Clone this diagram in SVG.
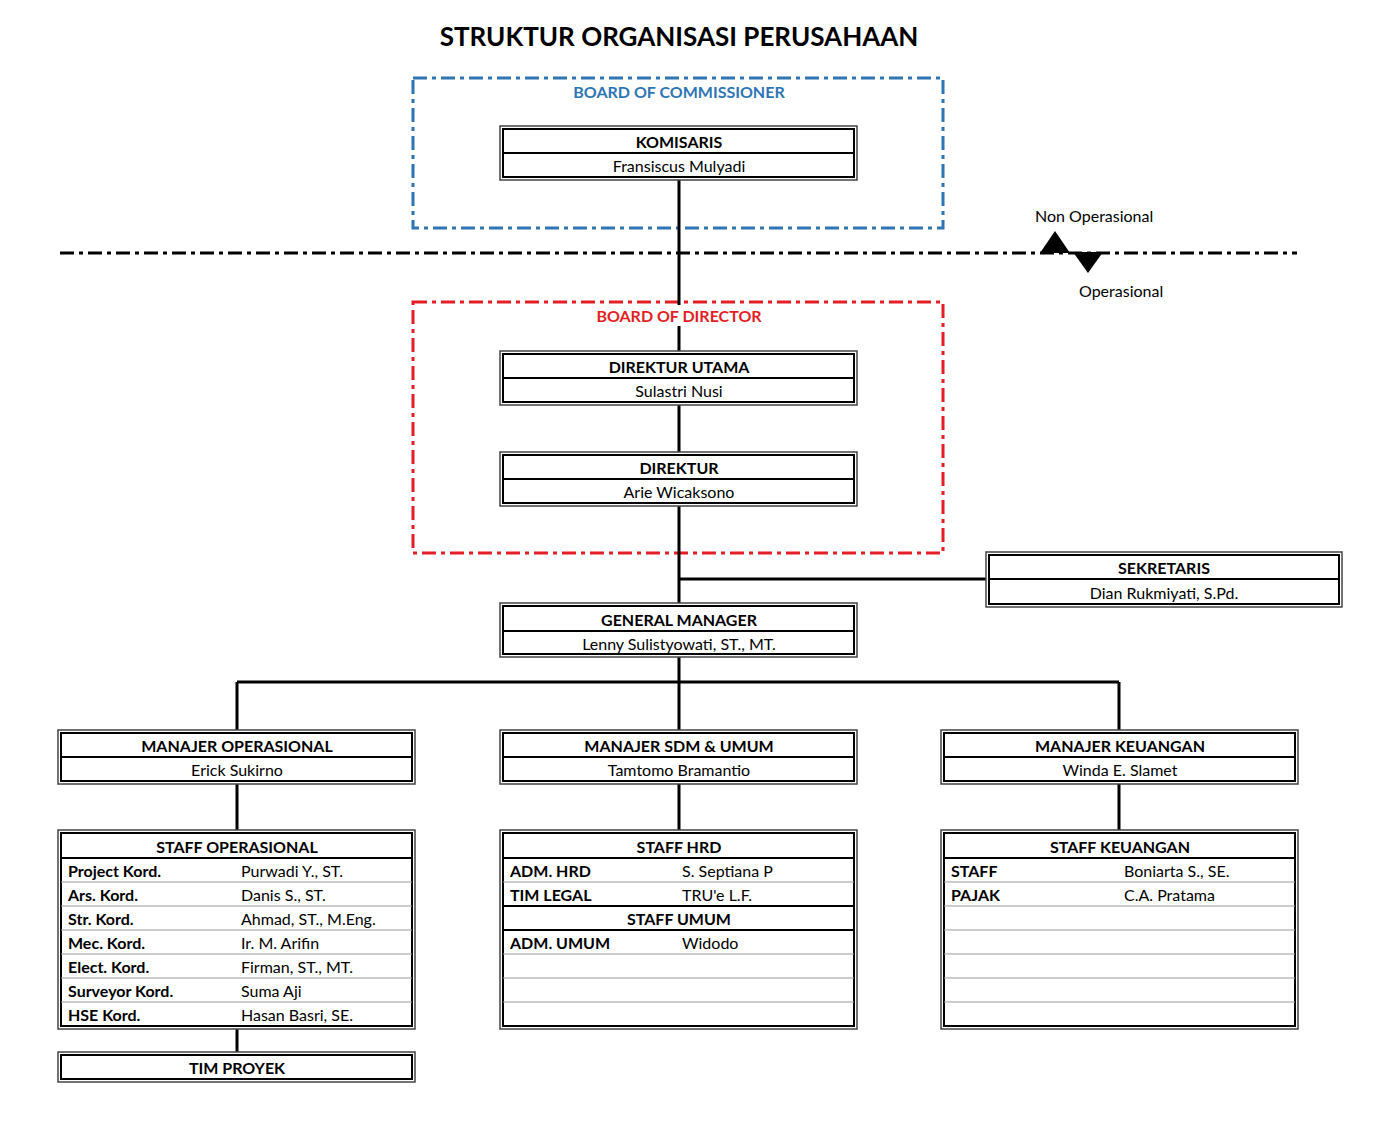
<svg xmlns="http://www.w3.org/2000/svg" width="1381" height="1128" viewBox="0 0 1381 1128">
<style>
text{font-family:Lato,"Open Sans","Liberation Sans",sans-serif;fill:#000;dominant-baseline:central}
.t{font-size:26px;font-weight:bold;text-anchor:middle}
.h{font-size:16px;font-weight:bold;text-anchor:middle}
.n{font-size:16px;text-anchor:middle}
.l{font-size:16px;font-weight:bold}
.v{font-size:16px}
.o{fill:#fff;stroke:#444;stroke-width:1.5}
.i{fill:none;stroke:#000;stroke-width:2}
.d{stroke:#000;stroke-width:2}
.r{stroke:#999;stroke-width:1}
.c{stroke:#000;stroke-width:3;fill:none}
.blue{fill:none;stroke:#2E75B6;stroke-width:3;stroke-dasharray:14 5 4 5}
.red{fill:none;stroke:#E31E24;stroke-width:3;stroke-dasharray:14 5 4 5}
.sep{stroke:#000;stroke-width:3;stroke-dasharray:14 5 4 5}
</style>
<rect width="1381" height="1128" fill="#fff"/>
<text class="t" x="679" y="36">STRUKTUR ORGANISASI PERUSAHAAN</text>

<g id="board-commissioner">
<rect class="blue" x="413" y="78" width="530" height="150"/>
<text class="h" x="679" y="91" style="fill:#2E75B6">BOARD OF COMMISSIONER</text>
</g>
<g id="board-director">
<rect class="red" x="413" y="302" width="530" height="251"/>
</g>

<g id="separator">
<line class="sep" x1="60" y1="253" x2="1297" y2="253"/>
<polygon points="1040,253 1070,253 1055,231" fill="#000"/>
<polygon points="1073,252 1103,252 1088,273" fill="#000"/>
<text class="v" x="1035" y="215">Non Operasional</text>
<text class="v" x="1079" y="290">Operasional</text>
</g>

<g id="connectors">
<path class="c" d="M679 180V351M679 404V452M679 505V603M679 579H986M679 657V730M237 682H1119M237 682V730M1119 682V730M237 784V830M679 784V830M1119 784V830M237 1029V1052"/>
</g>

<g id="bod-label">
<rect x="596" y="305" width="168" height="21" fill="#fff"/>
<text class="h" x="679" y="315" style="fill:#E31E24">BOARD OF DIRECTOR</text>
</g>

<g id="komisaris">
<rect class="o" x="500" y="126" width="357" height="54"/>
<rect class="i" x="503" y="129" width="351" height="48"/>
<line class="d" x1="503" y1="153" x2="854" y2="153"/>
<text class="h" x="679" y="141">KOMISARIS</text>
<text class="n" x="679" y="165">Fransiscus Mulyadi</text>
</g>

<g id="direktur-utama">
<rect class="o" x="500" y="351" width="357" height="54"/>
<rect class="i" x="503" y="354" width="351" height="48"/>
<line class="d" x1="503" y1="378" x2="854" y2="378"/>
<text class="h" x="679" y="366">DIREKTUR UTAMA</text>
<text class="n" x="679" y="390">Sulastri Nusi</text>
</g>

<g id="direktur">
<rect class="o" x="500" y="452" width="357" height="54"/>
<rect class="i" x="503" y="455" width="351" height="48"/>
<line class="d" x1="503" y1="479" x2="854" y2="479"/>
<text class="h" x="679" y="467">DIREKTUR</text>
<text class="n" x="679" y="491">Arie Wicaksono</text>
</g>

<g id="sekretaris">
<rect class="o" x="986" y="552" width="356" height="55"/>
<rect class="i" x="989" y="555" width="350" height="49"/>
<line class="d" x1="989" y1="579" x2="1339" y2="579"/>
<text class="h" x="1164" y="567">SEKRETARIS</text>
<text class="n" x="1164" y="592">Dian Rukmiyati, S.Pd.</text>
</g>

<g id="general-manager">
<rect class="o" x="500" y="603" width="357" height="54"/>
<rect class="i" x="503" y="606" width="351" height="48"/>
<line class="d" x1="503" y1="631" x2="854" y2="631"/>
<text class="h" x="679" y="619">GENERAL MANAGER</text>
<text class="n" x="679" y="643">Lenny Sulistyowati, ST., MT.</text>
</g>

<g id="manajer-operasional">
<rect class="o" x="58" y="730" width="357" height="54"/>
<rect class="i" x="61" y="733" width="351" height="48"/>
<line class="d" x1="61" y1="757" x2="412" y2="757"/>
<text class="h" x="237" y="745">MANAJER OPERASIONAL</text>
<text class="n" x="237" y="769">Erick Sukirno</text>
</g>

<g id="manajer-sdm">
<rect class="o" x="500" y="730" width="357" height="54"/>
<rect class="i" x="503" y="733" width="351" height="48"/>
<line class="d" x1="503" y1="757" x2="854" y2="757"/>
<text class="h" x="679" y="745">MANAJER SDM &amp; UMUM</text>
<text class="n" x="679" y="769">Tamtomo Bramantio</text>
</g>

<g id="manajer-keuangan">
<rect class="o" x="941" y="730" width="357" height="54"/>
<rect class="i" x="944" y="733" width="351" height="48"/>
<line class="d" x1="944" y1="757" x2="1295" y2="757"/>
<text class="h" x="1120" y="745">MANAJER KEUANGAN</text>
<text class="n" x="1120" y="769">Winda E. Slamet</text>
</g>

<g id="staff-operasional">
<rect class="o" x="58" y="830" width="357" height="199"/>
<rect class="i" x="61" y="833" width="351" height="193"/>
<line class="d" x1="61" y1="858" x2="412" y2="858"/>
<path class="r" d="M61 882H412M61 906H412M61 930H412M61 954H412M61 978H412M61 1002H412"/>
<text class="h" x="237" y="846">STAFF OPERASIONAL</text>
<text class="l" x="68" y="870">Project Kord.</text><text class="v" x="241" y="870">Purwadi Y., ST.</text>
<text class="l" x="68" y="894">Ars. Kord.</text><text class="v" x="241" y="894">Danis S., ST.</text>
<text class="l" x="68" y="918">Str. Kord.</text><text class="v" x="241" y="918">Ahmad, ST., M.Eng.</text>
<text class="l" x="68" y="942">Mec. Kord.</text><text class="v" x="241" y="942">Ir. M. Arifin</text>
<text class="l" x="68" y="966">Elect. Kord.</text><text class="v" x="241" y="966">Firman, ST., MT.</text>
<text class="l" x="68" y="990">Surveyor Kord.</text><text class="v" x="241" y="990">Suma Aji</text>
<text class="l" x="68" y="1014">HSE Kord.</text><text class="v" x="241" y="1014">Hasan Basri, SE.</text>
</g>

<g id="tim-proyek">
<rect class="o" x="58" y="1052" width="357" height="30"/>
<rect class="i" x="61" y="1055" width="351" height="24"/>
<text class="h" x="237" y="1067">TIM PROYEK</text>
</g>

<g id="staff-hrd-umum">
<rect class="o" x="500" y="830" width="357" height="199"/>
<rect class="i" x="503" y="833" width="351" height="193"/>
<path class="d" d="M503 858H854M503 906H854M503 930H854"/>
<path class="r" d="M503 882H854M503 954H854M503 978H854M503 1002H854"/>
<text class="h" x="679" y="846">STAFF HRD</text>
<text class="l" x="510" y="870">ADM. HRD</text><text class="v" x="682" y="870">S. Septiana P</text>
<text class="l" x="510" y="894">TIM LEGAL</text><text class="v" x="682" y="894">TRU'e L.F.</text>
<text class="h" x="679" y="918">STAFF UMUM</text>
<text class="l" x="510" y="942">ADM. UMUM</text><text class="v" x="682" y="942">Widodo</text>
</g>

<g id="staff-keuangan">
<rect class="o" x="941" y="830" width="357" height="199"/>
<rect class="i" x="944" y="833" width="351" height="193"/>
<line class="d" x1="944" y1="858" x2="1295" y2="858"/>
<path class="r" d="M944 882H1295M944 906H1295M944 930H1295M944 954H1295M944 978H1295M944 1002H1295"/>
<text class="h" x="1120" y="846">STAFF KEUANGAN</text>
<text class="l" x="951" y="870">STAFF</text><text class="v" x="1124" y="870">Boniarta S., SE.</text>
<text class="l" x="951" y="894">PAJAK</text><text class="v" x="1124" y="894">C.A. Pratama</text>
</g>
</svg>
